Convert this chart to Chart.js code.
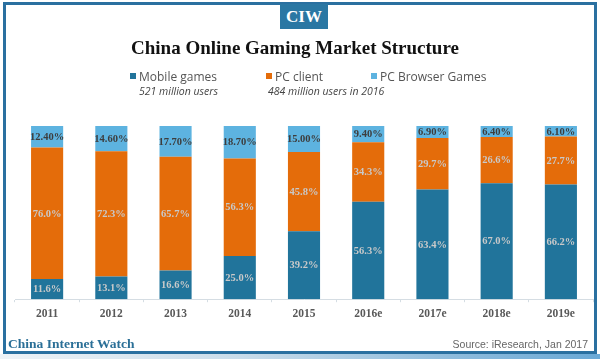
<!DOCTYPE html>
<html>
<head>
<meta charset="utf-8">
<script src="https://cdn.jsdelivr.net/npm/chart.js@4/dist/chart.umd.min.js"></script>
<style>
  html, body { margin: 0; padding: 0; background: #ffffff; }
  #page { position: relative; width: 600px; height: 359px; overflow: hidden; background: #fff; }
  #wrap { position: absolute; left: 0; top: 0; width: 600px; height: 359px; }
  .abs { position: absolute; white-space: nowrap; }
  #frame { position: absolute; left: 3px; top: 2px; width: 588px; height: 346px; border: 3px solid #2a70a0; }
  #strip { position: absolute; left: 0; top: 354px; width: 600px; height: 5px;
           background: linear-gradient(90deg, #eef3f7 0%, #c9dcea 40%, #8fbcdc 75%, #6aa9d6 100%); }
  #tab { position: absolute; left: 280px; top: 4px; width: 48px; height: 25px; background: #2a77a3;
         color: #fff; font: bold 17px "Liberation Serif", "DejaVu Serif", serif; text-align: center; line-height: 25px; }
  #title { left: 0; width: 590px; top: 37px; text-align: center; font: bold 19px "Liberation Serif", "DejaVu Serif", serif; color: #111; }
  .leg { font: 12px "Open Sans", Lato, sans-serif; color: #555; top: 68px; }
  .sq { display: inline-block; width: 6px; height: 6px; margin-right: 3px; vertical-align: 2px; }
  .sub { font: italic 10.5px "Open Sans", Lato, sans-serif; color: #444; top: 84px; }
  #brand { left: 8px; top: 336px; font: bold 13.5px "Liberation Serif", "DejaVu Serif", serif; color: #2a6f97; }
  #source { right: 12px; top: 338px; font: 10.5px "Liberation Sans", Arial, sans-serif; color: #666; }
</style>
</head>
<body>
<div id="page">
  <div id="wrap"><canvas id="c"></canvas></div>
  <div id="frame"></div>
  <div id="strip"></div>
  <div id="tab">CIW</div>
  <div id="title" class="abs">China Online Gaming Market Structure</div>
  <div class="abs leg" style="left:130px"><span class="sq" style="background:#21749b"></span>Mobile games</div>
  <div class="abs leg" style="left:266px"><span class="sq" style="background:#e46c0a"></span>PC client</div>
  <div class="abs leg" style="left:371px"><span class="sq" style="background:#5db3e0"></span>PC Browser Games</div>
  <div class="abs sub" style="left:139px">521 million users</div>
  <div class="abs sub" style="left:268px">484 million users in 2016</div>
  <div id="brand" class="abs">China Internet Watch</div>
  <div id="source" class="abs">Source: iResearch, Jan 2017</div>
</div>
<script>
const categories = ['2011', '2012', '2013', '2014', '2015', '2016e', '2017e', '2018e', '2019e'];
const mobileGames = [11.6, 13.1, 16.6, 25.0, 39.2, 56.3, 63.4, 67.0, 66.2];
const pcClient = [76.0, 72.3, 65.7, 56.3, 45.8, 34.3, 29.7, 26.6, 27.7];
const pcBrowser = [12.4, 14.6, 17.7, 18.7, 15.0, 9.4, 6.9, 6.4, 6.1];
const seriesNames = ['Mobile games', 'PC client', 'PC Browser Games'];
const labelDecimals = [1, 1, 2];

const labelPlugin = {
  id: 'barLabels',
  afterDatasetsDraw(chart) {
    const ctx = chart.ctx;
    ctx.save();
    ctx.font = 'bold 10.5px "Liberation Serif", "DejaVu Serif", serif';
    ctx.textAlign = 'center';
    ctx.textBaseline = 'middle';
    chart.data.datasets.forEach((ds, di) => {
      const meta = chart.getDatasetMeta(di);
      ctx.fillStyle = di === 2 ? '#3d3d3d' : '#c9c9c9';
      meta.data.forEach((el, i) => {
        const v = ds.data[i];
        const y = (el.y + el.base) / 2;
        ctx.fillText(v.toFixed(labelDecimals[di]) + '%', el.x, y + 0.5);
      });
    });
    ctx.restore();
  }
};

new Chart(document.getElementById('c'), {
  type: 'bar',
  data: {
    labels: categories,
    datasets: [
      { label: seriesNames[0], data: mobileGames, backgroundColor: '#21749b' },
      { label: seriesNames[1], data: pcClient, backgroundColor: '#e46c0a' },
      { label: seriesNames[2], data: pcBrowser, backgroundColor: '#5db3e0' }
    ]
  },
  options: {
    responsive: true,
    maintainAspectRatio: false,
    animation: false,
    layout: { padding: { left: 15, right: 7, top: 126, bottom: 33 } },
    datasets: { bar: { barPercentage: 0.5, categoryPercentage: 1.0, borderWidth: 0 } },
    plugins: { legend: { display: false }, title: { display: false }, tooltip: { enabled: false } },
    scales: {
      x: {
        stacked: true,
        grid: { display: true, drawOnChartArea: false, tickLength: 3, color: '#d5dde3', offset: true },
        border: { display: true, color: '#d5dde3', width: 1 },
        ticks: { color: '#595959', padding: 5, font: { family: '"Liberation Serif", "DejaVu Serif", serif', size: 11.5, weight: 'bold' } }
      },
      y: { stacked: true, display: false, min: 0, max: 100 }
    }
  },
  plugins: [labelPlugin]
});
</script>
</body>
</html>
